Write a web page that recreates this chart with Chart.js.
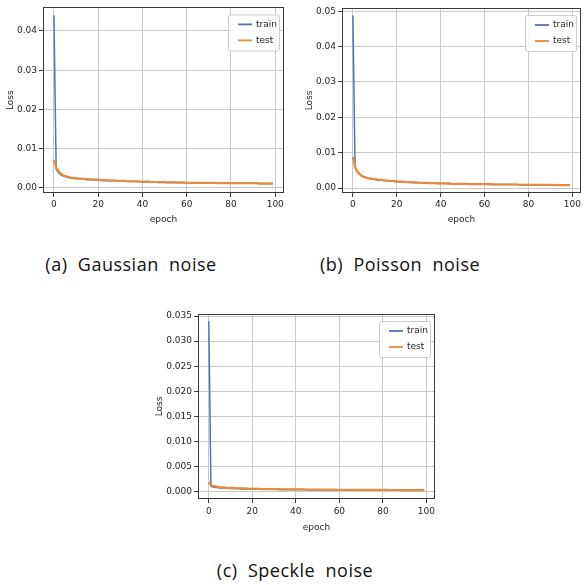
<!DOCTYPE html>
<html>
<head>
<meta charset="utf-8">
<script src="https://cdn.jsdelivr.net/npm/chart.js@4.4.1/dist/chart.umd.min.js"></script>
<style>
    html, body { margin: 0; padding: 0; background: #fff; }
    #page { position: relative; width: 584px; height: 585px; overflow: hidden; }
    .panel { position: absolute; }
    .caption {
        position: absolute;
        font-family: "Open Sans", "DejaVu Sans", sans-serif;
        font-weight: 400;
        font-size: 18px;
        letter-spacing: 0.5px;
        color: #111;
        white-space: pre;
        line-height: 1;
        transform: translate(-50%, -50%);
    }
</style>
</head>
<body>
<div id="page">
    <canvas id="chartA" class="panel" width="292" height="232" style="left:0;top:0"></canvas>
    <canvas id="chartB" class="panel" width="292" height="232" style="left:292px;top:0"></canvas>
    <canvas id="chartC" class="panel" width="292" height="236" style="left:150px;top:300px"></canvas>
    <div class="caption" style="left:131px;top:264px">(a)  Gaussian  noise</div>
    <div class="caption" style="left:400px;top:264px">(b)  Poisson  noise</div>
    <div class="caption" style="left:295px;top:570px">(c)  Speckle  noise</div>
</div>
<script>
// ── Data ──────────────────────────────────────────────────────
const epochs = Array.from({ length: 100 }, (_, i) => i);
const xTicks = [0, 20, 40, 60, 80, 100];

// (a) Gaussian noise
const trainA = [
    0.0440, 0.0048, 0.0039, 0.0034, 0.0031, 0.0029, 0.0027, 0.0026, 0.0025, 0.0024,
    0.0024, 0.0023, 0.0023, 0.0022, 0.0022, 0.0021, 0.0021, 0.0021, 0.0020, 0.0020,
    0.0020, 0.0019, 0.0019, 0.0019, 0.0018, 0.0018, 0.0018, 0.0018, 0.0018, 0.0017,
    0.0017, 0.0017, 0.0017, 0.0017, 0.0016, 0.0016, 0.0016, 0.0016, 0.0016, 0.0016,
    0.0015, 0.0015, 0.0015, 0.0015, 0.0015, 0.0015, 0.0015, 0.0014, 0.0014, 0.0014,
    0.0014, 0.0014, 0.0014, 0.0014, 0.0014, 0.0014, 0.0013, 0.0013, 0.0013, 0.0013,
    0.0013, 0.0013, 0.0013, 0.0013, 0.0013, 0.0013, 0.0013, 0.0013, 0.0013, 0.0013,
    0.0013, 0.0013, 0.0012, 0.0012, 0.0012, 0.0012, 0.0012, 0.0012, 0.0012, 0.0012,
    0.0012, 0.0012, 0.0012, 0.0012, 0.0012, 0.0012, 0.0012, 0.0012, 0.0012, 0.0012,
    0.0012, 0.0012, 0.0011, 0.0011, 0.0011, 0.0011, 0.0011, 0.0011, 0.0011, 0.0011
];
const testA = [
    0.0071, 0.0052, 0.0043, 0.0037, 0.0033, 0.0030, 0.0029, 0.0027, 0.0026, 0.0025,
    0.0025, 0.0024, 0.0024, 0.0023, 0.0023, 0.0022, 0.0022, 0.0022, 0.0021, 0.0021,
    0.0021, 0.0020, 0.0020, 0.0020, 0.0019, 0.0019, 0.0019, 0.0019, 0.0018, 0.0018,
    0.0018, 0.0018, 0.0018, 0.0017, 0.0017, 0.0017, 0.0017, 0.0017, 0.0016, 0.0016,
    0.0016, 0.0016, 0.0016, 0.0016, 0.0015, 0.0015, 0.0015, 0.0015, 0.0015, 0.0015,
    0.0015, 0.0014, 0.0014, 0.0014, 0.0014, 0.0014, 0.0014, 0.0014, 0.0014, 0.0014,
    0.0013, 0.0013, 0.0013, 0.0013, 0.0013, 0.0013, 0.0013, 0.0013, 0.0013, 0.0013,
    0.0013, 0.0013, 0.0013, 0.0013, 0.0012, 0.0012, 0.0012, 0.0012, 0.0012, 0.0012,
    0.0012, 0.0012, 0.0012, 0.0012, 0.0012, 0.0012, 0.0012, 0.0012, 0.0012, 0.0012,
    0.0012, 0.0012, 0.0012, 0.0011, 0.0011, 0.0011, 0.0011, 0.0011, 0.0011, 0.0011
];
const yTicksA = [0.00, 0.01, 0.02, 0.03, 0.04];

// (b) Poisson noise
const trainB = [
    0.0488, 0.0058, 0.0045, 0.0039, 0.0034, 0.0031, 0.0029, 0.0027, 0.0026, 0.0025,
    0.0024, 0.0023, 0.0023, 0.0022, 0.0021, 0.0021, 0.0020, 0.0020, 0.0019, 0.0019,
    0.0018, 0.0018, 0.0018, 0.0017, 0.0017, 0.0017, 0.0016, 0.0016, 0.0016, 0.0015,
    0.0015, 0.0015, 0.0015, 0.0014, 0.0014, 0.0014, 0.0014, 0.0014, 0.0013, 0.0013,
    0.0013, 0.0013, 0.0013, 0.0013, 0.0012, 0.0012, 0.0012, 0.0012, 0.0012, 0.0012,
    0.0012, 0.0011, 0.0011, 0.0011, 0.0011, 0.0011, 0.0011, 0.0011, 0.0011, 0.0011,
    0.0011, 0.0011, 0.0010, 0.0010, 0.0010, 0.0010, 0.0010, 0.0010, 0.0010, 0.0010,
    0.0010, 0.0010, 0.0010, 0.0010, 0.0010, 0.0010, 0.0009, 0.0009, 0.0009, 0.0009,
    0.0009, 0.0009, 0.0009, 0.0009, 0.0009, 0.0009, 0.0009, 0.0009, 0.0009, 0.0009,
    0.0009, 0.0008, 0.0008, 0.0008, 0.0008, 0.0008, 0.0008, 0.0008, 0.0008, 0.0008
];
const testB = [
    0.0088, 0.0060, 0.0047, 0.0040, 0.0035, 0.0032, 0.0030, 0.0028, 0.0027, 0.0026,
    0.0025, 0.0024, 0.0023, 0.0023, 0.0022, 0.0021, 0.0021, 0.0020, 0.0020, 0.0019,
    0.0019, 0.0018, 0.0018, 0.0018, 0.0017, 0.0017, 0.0017, 0.0016, 0.0016, 0.0016,
    0.0015, 0.0015, 0.0015, 0.0015, 0.0014, 0.0014, 0.0014, 0.0014, 0.0014, 0.0013,
    0.0013, 0.0013, 0.0013, 0.0013, 0.0013, 0.0012, 0.0012, 0.0012, 0.0012, 0.0012,
    0.0012, 0.0012, 0.0012, 0.0011, 0.0011, 0.0011, 0.0011, 0.0011, 0.0011, 0.0011,
    0.0011, 0.0011, 0.0011, 0.0011, 0.0010, 0.0010, 0.0010, 0.0010, 0.0010, 0.0010,
    0.0010, 0.0010, 0.0010, 0.0010, 0.0010, 0.0010, 0.0009, 0.0009, 0.0009, 0.0009,
    0.0009, 0.0009, 0.0009, 0.0009, 0.0009, 0.0009, 0.0009, 0.0009, 0.0009, 0.0009,
    0.0009, 0.0009, 0.0008, 0.0008, 0.0008, 0.0008, 0.0008, 0.0008, 0.0008, 0.0008
];
const yTicksB = [0.00, 0.01, 0.02, 0.03, 0.04, 0.05];

// (c) Speckle noise
const trainC = [
    0.0340, 0.0011, 0.0010, 0.0009, 0.0009, 0.0008, 0.0008, 0.0008, 0.0008, 0.0007,
    0.0007, 0.0007, 0.0007, 0.0007, 0.0007, 0.0006, 0.0006, 0.0006, 0.0006, 0.0006,
    0.00060, 0.00060, 0.00058, 0.00057, 0.00056, 0.00055, 0.00055, 0.00054, 0.00053, 0.00053,
    0.00052, 0.00052, 0.00051, 0.00051, 0.00050, 0.00050, 0.00050, 0.00049, 0.00049, 0.00049,
    0.00048, 0.00048, 0.00047, 0.00047, 0.00047, 0.00046, 0.00046, 0.00046, 0.00045, 0.00045,
    0.00045, 0.00044, 0.00044, 0.00044, 0.00044, 0.00043, 0.00043, 0.00043, 0.00043, 0.00042,
    0.00042, 0.00042, 0.00042, 0.00041, 0.00041, 0.00041, 0.00041, 0.00040, 0.00040, 0.00040,
    0.00040, 0.00040, 0.00040, 0.00039, 0.00039, 0.00039, 0.00039, 0.00039, 0.00038, 0.00038,
    0.00038, 0.00038, 0.00038, 0.00037, 0.00037, 0.00037, 0.00037, 0.00037, 0.00037, 0.00036,
    0.00036, 0.00036, 0.00036, 0.00036, 0.00036, 0.00036, 0.00036, 0.00036, 0.00036, 0.00036
];
const testC = [
    0.0019, 0.0014, 0.0012, 0.0011, 0.0010, 0.0009, 0.0009, 0.0009, 0.0008, 0.0008,
    0.0008, 0.0008, 0.0007, 0.0007, 0.0007, 0.0007, 0.0007, 0.0007, 0.0006, 0.0006,
    0.00060, 0.00060, 0.00060, 0.00060, 0.00059, 0.00058, 0.00057, 0.00056, 0.00055, 0.00055,
    0.00055, 0.00055, 0.00055, 0.00053, 0.00053, 0.00053, 0.00052, 0.00052, 0.00051, 0.00051,
    0.00050, 0.00050, 0.00050, 0.00050, 0.00049, 0.00049, 0.00048, 0.00048, 0.00048, 0.00047,
    0.00047, 0.00047, 0.00046, 0.00046, 0.00046, 0.00045, 0.00045, 0.00045, 0.00045, 0.00044,
    0.00044, 0.00044, 0.00044, 0.00043, 0.00043, 0.00043, 0.00043, 0.00042, 0.00042, 0.00042,
    0.00042, 0.00042, 0.00041, 0.00041, 0.00041, 0.00041, 0.00041, 0.00040, 0.00040, 0.00040,
    0.00040, 0.00040, 0.00040, 0.00039, 0.00039, 0.00039, 0.00039, 0.00039, 0.00038, 0.00038,
    0.00038, 0.00038, 0.00038, 0.00038, 0.00037, 0.00037, 0.00037, 0.00037, 0.00037, 0.00037
];
const yTicksC = [0.000, 0.005, 0.010, 0.015, 0.020, 0.025, 0.030, 0.035];

// ── Style ─────────────────────────────────────────────────────
const TRAIN_COLOR = '#4c78b8';
const TEST_COLOR  = '#e8893d';
const GRID_COLOR  = '#c9c9c9';
const FRAME_COLOR = '#3a3a3a';
const TEXT_COLOR  = '#262626';
const FONT        = { family: 'DejaVu Sans', size: 9 };

// matplotlib-like frame around the plot area
const framePlugin = {
    id: 'frame',
    afterDraw(chart) {
        const { ctx, chartArea: a } = chart;
        ctx.save();
        ctx.strokeStyle = FRAME_COLOR;
        ctx.lineWidth = 1;
        ctx.strokeRect(Math.round(a.left) + 0.5, Math.round(a.top) + 0.5,
                       Math.round(a.right - a.left) - 1, Math.round(a.bottom - a.top) - 1);
        ctx.restore();
    }
};

// legend box in the upper right corner of the plot area
const legendPlugin = {
    id: 'boxLegend',
    afterDraw(chart) {
        const { ctx, chartArea: a } = chart;
        const w = 51, h = 36;
        const x = a.right - 5 - w, y = a.top + 7;
        ctx.save();
        ctx.fillStyle = 'rgba(255,255,255,0.85)';
        ctx.strokeStyle = '#cccccc';
        ctx.lineWidth = 1;
        ctx.beginPath();
        ctx.roundRect(x + 0.5, y + 0.5, w, h, 2);
        ctx.fill();
        ctx.stroke();
        ctx.font = `${FONT.size}px ${FONT.family}`;
        ctx.textBaseline = 'middle';
        ctx.fillStyle = TEXT_COLOR;
        chart.data.datasets
            .slice()
            .sort((p, q) => q.order - p.order)
            .forEach((ds, i) => {
                const ry = y + 10 + i * 16;
                ctx.strokeStyle = ds.borderColor;
                ctx.lineWidth = 1.8;
                ctx.beginPath();
                ctx.moveTo(x + 10, ry);
                ctx.lineTo(x + 24, ry);
                ctx.stroke();
                ctx.fillText(ds.label, x + 28, ry);
            });
        ctx.restore();
    }
};

// ── Chart builder ─────────────────────────────────────────────
function makeChart(id, train, test, yTicks, opt) {
    const ctx = document.getElementById(id).getContext('2d');
    return new Chart(ctx, {
        type: 'line',
        data: {
            labels: epochs,
            datasets: [
                { label: 'train', data: train, borderColor: TRAIN_COLOR, borderWidth: 1.5, order: 1 },
                { label: 'test',  data: test,  borderColor: TEST_COLOR,  borderWidth: 2.2, order: 0 }
            ]
        },
        options: {
            responsive: false,
            animation: false,
            devicePixelRatio: 1,
            elements: { point: { radius: 0 }, line: { tension: 0 } },
            layout: { padding: { left: 0, top: opt.padTop, right: opt.padRight, bottom: 0 } },
            plugins: { legend: { display: false }, tooltip: { enabled: false } },
            scales: {
                x: {
                    type: 'linear',
                    min: -4.95,
                    max: 103.95,
                    afterBuildTicks: axis => { axis.ticks = xTicks.map(v => ({ value: v })); },
                    afterFit: axis => { axis.height = opt.xHeight; },
                    grid: { color: GRID_COLOR, tickColor: FRAME_COLOR, tickLength: 4 },
                    border: { display: false },
                    ticks: { font: FONT, color: TEXT_COLOR, padding: opt.xTickPad, maxRotation: 0 },
                    title: { display: true, text: 'epoch', font: FONT, color: TEXT_COLOR,
                             padding: { top: 0, bottom: opt.xTitlePad } }
                },
                y: {
                    min: opt.yMin,
                    max: opt.yMax,
                    afterBuildTicks: axis => { axis.ticks = yTicks.map(v => ({ value: v })); },
                    afterFit: axis => { axis.width = opt.yWidth; },
                    grid: { color: GRID_COLOR, tickColor: FRAME_COLOR, tickLength: 4 },
                    border: { display: false },
                    ticks: { font: FONT, color: TEXT_COLOR, padding: 2,
                             callback: v => Number(v).toFixed(opt.decimals) },
                    title: { display: true, text: 'Loss', font: FONT, color: TEXT_COLOR,
                             padding: { top: opt.yTitlePad, bottom: 0 } }
                }
            }
        },
        plugins: [framePlugin, legendPlugin]
    });
}

// ── Boot ──────────────────────────────────────────────────────
makeChart('chartA', trainA, testA, yTicksA, {
    yMin: -0.0013, yMax: 0.046, decimals: 2,
    padTop: 5, padRight: 8, yWidth: 43, xHeight: 39,
    xTickPad: 2, xTitlePad: 6.6, yTitlePad: 5
});
makeChart('chartB', trainB, testB, yTicksB, {
    yMin: -0.0014, yMax: 0.0509, decimals: 2,
    padTop: 8, padRight: 3, yWidth: 50, xHeight: 39,
    xTickPad: 2, xTitlePad: 6.6, yTitlePad: 12
});
makeChart('chartC', trainC, testC, yTicksC, {
    yMin: -0.0014, yMax: 0.0354, decimals: 3,
    padTop: 14, padRight: 7, yWidth: 48, xHeight: 37,
    xTickPad: 3, xTitlePad: 2.6, yTitlePad: 4.6
});
</script>
</body>
</html>
